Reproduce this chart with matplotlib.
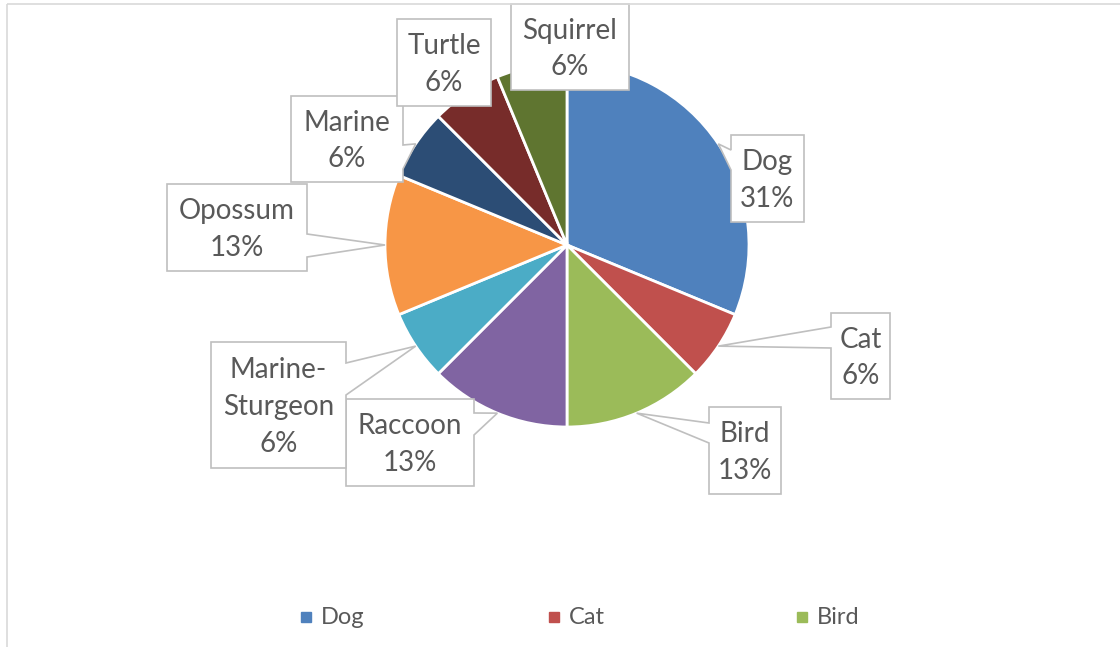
import numpy as np
import matplotlib.pyplot as plt
from matplotlib.patches import Polygon, Rectangle

plt.rcParams['font.family'] = ['Lato', 'DejaVu Sans']

# data
animals = ["Dog", "Cat", "Bird", "Raccoon", "Marine-\nSturgeon", "Opossum",
           "Marine", "Turtle", "Squirrel"]
counts = [5, 1, 2, 2, 1, 2, 1, 1, 1]
colors = ["#4F81BD", "#C0504D", "#9BBB59", "#8064A2", "#4BACC6", "#F79646",
          "#2C4D75", "#772C2A", "#5F7530"]
legend_shown = 3   # the legend only has room for the first three

# callout boxes in pixels: x0, y0, x1, y1, pointer side, pointer base (ya, yb)
boxes = [
    (731, 135, 804, 222, "left", (150, 170)),
    (831, 313, 890, 399, "left", (327, 348)),
    (709, 407, 781, 494, "left", (423, 443)),
    (346, 399, 474, 486, "right", (413, 435)),
    (211, 342, 346, 468, "right", (363, 395)),
    (167, 184, 307, 271, "right", (234, 257)),
    (291, 96, 403, 182, "right", (145, 169)),
    (397, 19, 491, 106, None, None),
    (511, 4, 629, 90, None, None),
]

cx, cy, r = 567, 245, 182
gray_txt = "#595959"
edge = "#BFBFBF"

fig = plt.figure(figsize=(11.2, 6.47), dpi=100)
ax = fig.add_axes([0, 0, 1, 1])

# y axis is inverted, so counterclock in data = clockwise on screen
wedges, _ = ax.pie(counts, colors=colors, startangle=-90, counterclock=True,
                   center=(cx, cy), radius=r, frame=True,
                   wedgeprops=dict(edgecolor="white", linewidth=2))
ax.set_xlim(0, 1120)
ax.set_ylim(647, 0)
ax.set_aspect("equal")
ax.axis("off")

total = sum(counts)
for w, name, n, b in zip(wedges, animals, counts, boxes):
    x0, y0, x1, y1, side, base = b
    mid = np.deg2rad((w.theta1 + w.theta2) / 2)
    tip = (cx + r * np.cos(mid), cy + r * np.sin(mid))
    if side == "left":
        pts = [(x0, y0), (x1, y0), (x1, y1), (x0, y1),
               (x0, base[1]), tip, (x0, base[0])]
    elif side == "right":
        pts = [(x0, y0), (x1, y0), (x1, base[0]), tip, (x1, base[1]),
               (x1, y1), (x0, y1)]
    else:
        pts = [(x0, y0), (x1, y0), (x1, y1), (x0, y1)]
    ax.add_patch(Polygon(pts, closed=True, facecolor="white", edgecolor=edge,
                         linewidth=1.2, zorder=5))
    pct = round(100 * n / total + 1e-9)
    ax.text((x0 + x1) / 2, (y0 + y1) / 2 + 2, f"{name}\n{pct:.0f}%",
            ha="center", va="center", fontsize=20, color=gray_txt,
            linespacing=1.5, zorder=6)

# legend (only first entries fit)
for i in range(legend_shown):
    lx = 306 + i * 248
    ax.plot(lx, 617, marker="s", markersize=7.5, color=colors[i],
            linestyle="none", zorder=6)
    ax.text(lx + 15, 617, animals[i], ha="left", va="center", fontsize=17,
            color=gray_txt, zorder=6)

# chart area border
ax.add_patch(Rectangle((7, 3.5), 1200, 700, fill=False, edgecolor="#D9D9D9",
                       linewidth=1.2, zorder=7))

fig.savefig("out.png", dpi=100)
